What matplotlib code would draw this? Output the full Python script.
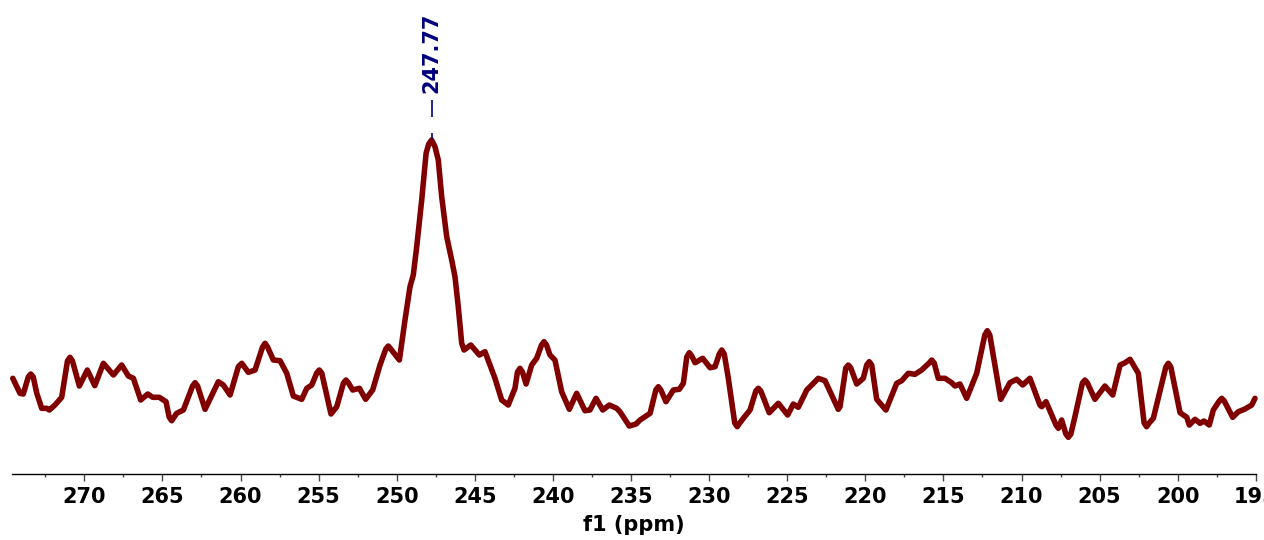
import matplotlib
matplotlib.use("Agg")
import matplotlib.pyplot as plt
from matplotlib.ticker import MultipleLocator

# 13C spectrum, chemical shift (ppm) and intensity (a.u.)
shift = [274.58, 274.12, 273.91, 273.59, 273.43, 273.27, 273.05, 272.73, 272.41, 272.24,
         271.88, 271.45, 271.08, 270.92, 270.76, 270.32, 269.81, 269.33, 268.78, 268.14,
         267.61, 267.18, 266.86, 266.39, 265.94, 265.62, 265.20, 264.77, 264.57, 264.41,
         264.25, 264.09, 263.66, 263.07, 262.91, 262.75, 262.27, 261.42, 261.10, 260.67,
         260.14, 259.92, 259.50, 259.07, 258.59, 258.43, 258.27, 257.90, 257.47, 257.04,
         256.62, 256.08, 255.76, 255.44, 255.12, 254.96, 254.80, 254.21, 253.84, 253.41,
         253.25, 253.09, 252.82, 252.39, 251.99, 251.54, 251.07, 250.70, 250.54, 250.38,
         249.83, 249.47, 249.15, 248.94, 248.72, 248.40, 248.12, 247.95, 247.77, 247.55,
         247.34, 247.12, 246.80, 246.48, 246.27, 246.06, 245.84, 245.69, 245.26, 244.71,
         244.35, 244.03, 243.71, 243.28, 242.86, 242.43, 242.27, 242.11, 241.95, 241.72,
         241.36, 241.04, 240.73, 240.57, 240.41, 240.19, 239.87, 239.44, 238.95, 238.48,
         237.95, 237.63, 237.24, 236.81, 236.39, 235.92, 235.71, 235.11, 234.68, 234.42,
         233.78, 233.41, 233.25, 233.09, 232.76, 232.29, 231.91, 231.65, 231.43, 231.27,
         231.11, 230.90, 230.41, 229.94, 229.62, 229.35, 229.19, 229.03, 228.77, 228.36,
         228.20, 228.04, 227.81, 227.38, 227.01, 226.85, 226.69, 226.15, 225.57, 224.97,
         224.61, 224.29, 223.75, 223.01, 222.58, 221.73, 221.62, 221.25, 221.09, 220.93,
         220.55, 220.13, 219.91, 219.75, 219.59, 219.27, 218.68, 217.99, 217.67, 217.25,
         216.82, 216.39, 215.91, 215.75, 215.59, 215.33, 214.90, 214.47, 214.26, 213.94,
         213.51, 212.87, 212.35, 212.19, 212.03, 211.33, 210.74, 210.31, 209.92, 209.46,
         208.82, 208.71, 208.43, 207.79, 207.64, 207.43, 207.16, 207.00, 206.84, 206.58,
         206.10, 205.94, 205.78, 205.30, 204.66, 204.16, 203.69, 203.37, 203.05, 202.52,
         202.15, 201.99, 201.83, 201.56, 200.76, 200.60, 200.44, 199.85, 199.42, 199.26,
         198.89, 198.57, 198.32, 197.98, 197.72, 197.34, 197.18, 197.02, 196.48, 196.12,
         195.69, 195.26, 195.05]
intensity = [95.7, 80.7, 80.0, 97.0, 100.0, 97.0, 81.0, 65.7, 65.7, 64.0,
             69.0, 76.7, 113.0, 116.7, 113.0, 88.0, 104.0, 88.3, 110.7, 99.0,
             109.0, 98.0, 95.7, 74.0, 80.0, 76.7, 76.7, 72.3, 57.0, 53.3,
             57.0, 60.7, 64.0, 88.0, 91.3, 88.0, 64.7, 92.3, 89.0, 79.0,
             107.3, 110.7, 101.7, 104.0, 127.0, 130.7, 127.0, 114.0, 113.3, 100.7,
             78.0, 74.7, 85.7, 89.0, 101.0, 104.0, 101.0, 60.0, 67.3, 91.0,
             94.0, 91.0, 84.0, 85.7, 74.7, 84.0, 109.0, 125.0, 128.0, 125.0,
             114.0, 154.0, 187.3, 199.0, 227.3, 274.0, 320.7, 330.0, 334.0, 327.3,
             314.0, 277.3, 237.3, 214.0, 197.3, 167.3, 130.7, 124.0, 129.0, 119.0,
             122.3, 109.0, 95.7, 74.0, 69.0, 85.7, 102.0, 105.7, 102.0, 90.0,
             109.0, 115.7, 129.0, 132.3, 129.0, 119.0, 114.0, 82.3, 64.7, 80.7,
             63.3, 64.0, 75.7, 64.0, 69.0, 65.7, 62.3, 48.0, 50.0, 54.0,
             60.7, 84.0, 87.3, 84.0, 72.3, 84.0, 84.7, 90.7, 117.0, 121.3,
             118.0, 111.3, 115.7, 106.3, 107.3, 120.0, 124.0, 120.0, 95.7, 51.0,
             47.3, 51.0, 55.7, 64.0, 83.0, 85.7, 83.0, 61.3, 70.7, 59.0,
             70.0, 66.7, 84.0, 95.7, 93.3, 64.7, 67.3, 106.0, 109.0, 106.0,
             90.0, 95.7, 109.0, 112.3, 109.0, 74.7, 64.0, 90.7, 93.3, 100.7,
             99.7, 104.0, 111.0, 114.0, 111.0, 95.7, 95.7, 91.3, 88.0, 90.0,
             75.7, 100.7, 139.0, 143.3, 139.0, 74.7, 91.3, 94.7, 89.0, 95.7,
             69.0, 67.3, 72.3, 49.0, 45.7, 54.0, 40.0, 36.7, 40.0, 57.3,
             91.0, 94.0, 91.0, 74.7, 88.0, 79.0, 109.0, 111.3, 114.7, 100.7,
             51.0, 47.3, 51.0, 55.7, 107.0, 110.7, 107.0, 61.3, 56.7, 49.0,
             54.7, 50.7, 53.0, 49.0, 64.0, 73.0, 75.7, 73.0, 56.7, 62.3,
             65.0, 69.0, 75.7]

peak_shift = 247.77
peak_label = "247.77"

fig = plt.figure(figsize=(12.64, 5.40), dpi=100)
ax = fig.add_axes([0.00926, 0.1222, 0.98425, 0.8778])

ax.plot(shift, intensity, color="#800000", linewidth=4.0,
        solid_joinstyle="round", solid_capstyle="round", clip_on=False)

# peak pick label
ax.text(peak_shift, 381, peak_label, rotation=90, ha="center", va="bottom",
        color="navy", fontsize=15, fontweight="bold")
ax.vlines(peak_shift, 357, 374, color="navy", linewidth=1.2)
ax.vlines(peak_shift, 335, 341, color="navy", linewidth=1.2)

ax.set_xlim(274.65, 195.0)
ax.set_ylim(0, 474)

ax.xaxis.set_major_locator(MultipleLocator(5))
ax.xaxis.set_minor_locator(MultipleLocator(2.5))
ax.tick_params(axis="x", which="major", length=5, width=1, color="#444444",
               labelsize=15, pad=4)
ax.tick_params(axis="x", which="minor", length=2.5, width=1, color="#444444")
for lbl in ax.get_xticklabels():
    lbl.set_fontweight("bold")
ax.set_yticks([])

for side in ("left", "right", "top"):
    ax.spines[side].set_visible(False)
ax.spines["bottom"].set_linewidth(1.0)

ax.set_xlabel("f1 (ppm)", fontsize=15, fontweight="bold", labelpad=6)

fig.savefig("out.png", dpi=100)
